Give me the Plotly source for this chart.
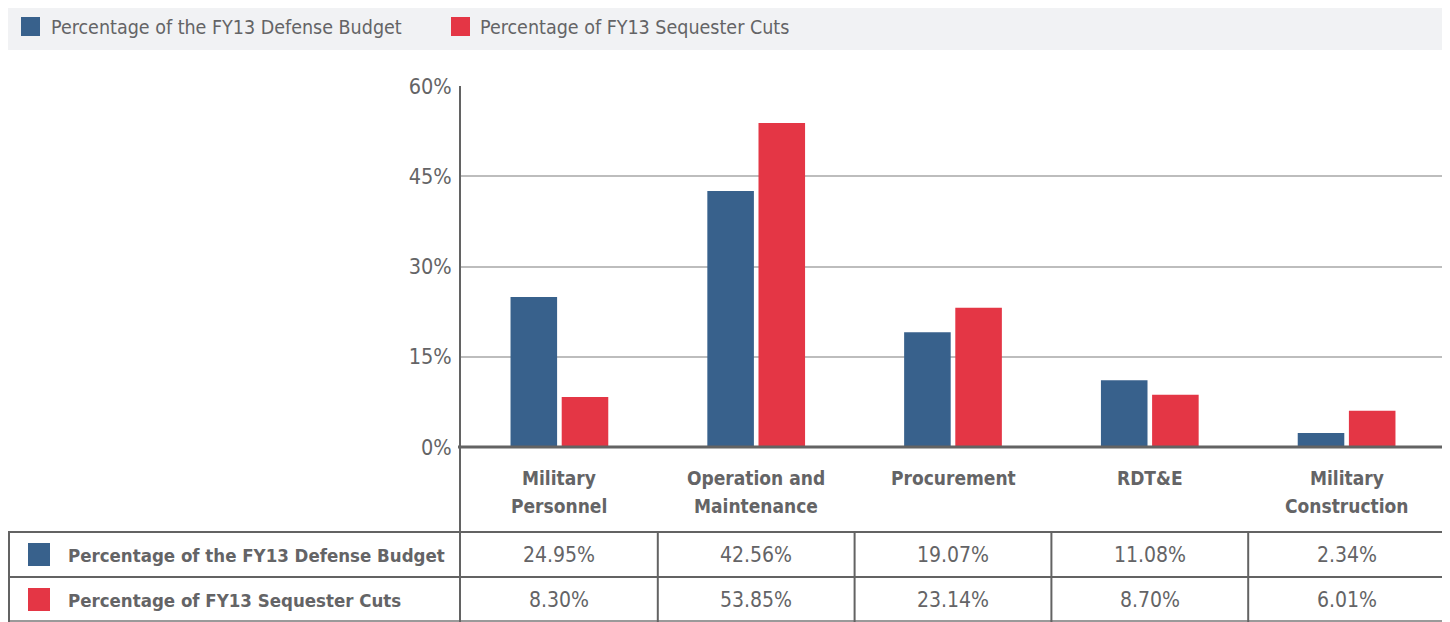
import plotly.graph_objects as go

# ---------------- data ----------------
categories = ["Military<br>Personnel", "Operation and<br>Maintenance", "Procurement", "RDT&E", "Military<br>Construction"]
series_names = ["Percentage of the FY13 Defense Budget", "Percentage of FY13 Sequester Cuts"]
budget_share = [24.95, 42.56, 19.07, 11.08, 2.34]
sequester_share = [8.30, 53.85, 23.14, 8.70, 6.01]
y_ticks = [0, 15, 30, 45, 60]

# ---------------- style ----------------
FONT = "DejaVu Sans Condensed, Liberation Sans Narrow, Roboto, sans-serif"
BLUE = "#38618c"
RED = "#e43645"
TXT = "#646466"
LINE = "#636363"
GRID = "#bdbdbd"
OFF = 8                     # page body margin
W, H = 1450 - OFF, 622 - OFF
L, T = 461 - OFF, 86 - OFF
R = W - (1445 - OFF)
B = H - (447 - OFF)
PW, PH = W - L - R, H - T - B


def xp(px):
    return (px - OFF - L) / PW


def yp(py):
    return (H - B - (py - OFF)) / PH


x_idx = list(range(len(categories)))
fig = go.Figure()
fig.add_trace(go.Bar(x=x_idx, y=budget_share, name=series_names[0], marker=dict(color=BLUE, line=dict(width=0))))
fig.add_trace(go.Bar(x=x_idx, y=sequester_share, name=series_names[1], marker=dict(color=RED, line=dict(width=0))))

shapes = []
annotations = []

# legend band
shapes.append(dict(type="rect", xref="paper", yref="paper", x0=xp(8), x1=xp(1445), y0=yp(50), y1=yp(4),
                   fillcolor="#f1f2f4", line=dict(width=0), layer="below"))
legend_x = [(21, 49), (451, 478)]
for (sq, tx), name, col in zip(legend_x, series_names, [BLUE, RED]):
    shapes.append(dict(type="rect", xref="paper", yref="paper", x0=xp(sq), x1=xp(sq + 19), y0=yp(36), y1=yp(17),
                       fillcolor=col, line=dict(width=0)))
    annotations.append(dict(xref="paper", yref="paper", x=xp(tx), y=yp(27), xanchor="left", yanchor="middle",
                            text=name, showarrow=False, font=dict(family=FONT, size=19.5, color=TXT)))


# table lines
def hline(py, x0px, x1px, w=2, col=LINE):
    shapes.append(dict(type="line", xref="paper", yref="paper", x0=xp(x0px), x1=xp(x1px), y0=yp(py), y1=yp(py),
                       line=dict(color=col, width=w)))


def vline(xv, y0px, y1px, xref="paper", w=2):
    shapes.append(dict(type="line", xref=xref, yref="paper", x0=xv, x1=xv, y0=yp(y0px), y1=yp(y1px),
                       line=dict(color=LINE, width=w)))


hline(447, 458, 1445, w=3)
hline(532, 8, 1445)
hline(577, 8, 1445)
hline(621, 8, 1445, col="#9a9a9a")
vline(xp(460), 447, 622)
vline(xp(1444), 447, 622)
vline(xp(9), 532, 622)
for i in range(1, len(categories)):
    vline(i - 0.5, 532, 622, xref="x")

# category header labels
for i, cat in enumerate(categories):
    for k, line in enumerate(cat.split("<br>")):
        annotations.append(dict(xref="x", yref="paper", x=i, y=yp(478 + 28 * k), xanchor="center", yanchor="middle",
                                text=f"<b>{line}</b>", showarrow=False,
                                font=dict(family=FONT, size=19, color=TXT)))

# table rows
row_centers = [555, 600]
for rc, name, col, vals in zip(row_centers, series_names, [BLUE, RED], [budget_share, sequester_share]):
    shapes.append(dict(type="rect", xref="paper", yref="paper", x0=xp(28), x1=xp(50), y0=yp(rc + 11), y1=yp(rc - 12),
                       fillcolor=col, line=dict(width=0)))
    annotations.append(dict(xref="paper", yref="paper", x=xp(66), y=yp(rc), xanchor="left", yanchor="middle",
                            text=f"<b>{name}</b>", showarrow=False, font=dict(family=FONT, size=18.5, color=TXT)))
    for i, v in enumerate(vals):
        annotations.append(dict(xref="x", yref="paper", x=i, y=yp(rc), xanchor="center", yanchor="middle",
                                text=f"{v:.2f}%", showarrow=False, font=dict(family=FONT, size=21, color=TXT)))

fig.update_layout(
    width=W, height=H,
    margin=dict(l=L, r=R, t=T, b=B, pad=0),
    paper_bgcolor="white", plot_bgcolor="white",
    showlegend=False,
    barmode="group", bargap=0.48, bargroupgap=0.09,
    font=dict(family=FONT, color=TXT),
    shapes=shapes, annotations=annotations,
    xaxis=dict(range=[-0.5, len(categories) - 0.5], showticklabels=False, showgrid=False, zeroline=False,
               showline=False, fixedrange=True),
    yaxis=dict(range=[0, 60], tickvals=y_ticks, ticktext=[f"{t}%" for t in y_ticks],
               tickfont=dict(family=FONT, size=21.5, color=TXT),
               showgrid=True, gridcolor=GRID, gridwidth=1.5, zeroline=False,
               showline=True, linecolor=LINE, linewidth=2,
               ticks="outside", ticklen=3, tickcolor="rgba(0,0,0,0)", fixedrange=True),
)

fig.write_html("out.html")
